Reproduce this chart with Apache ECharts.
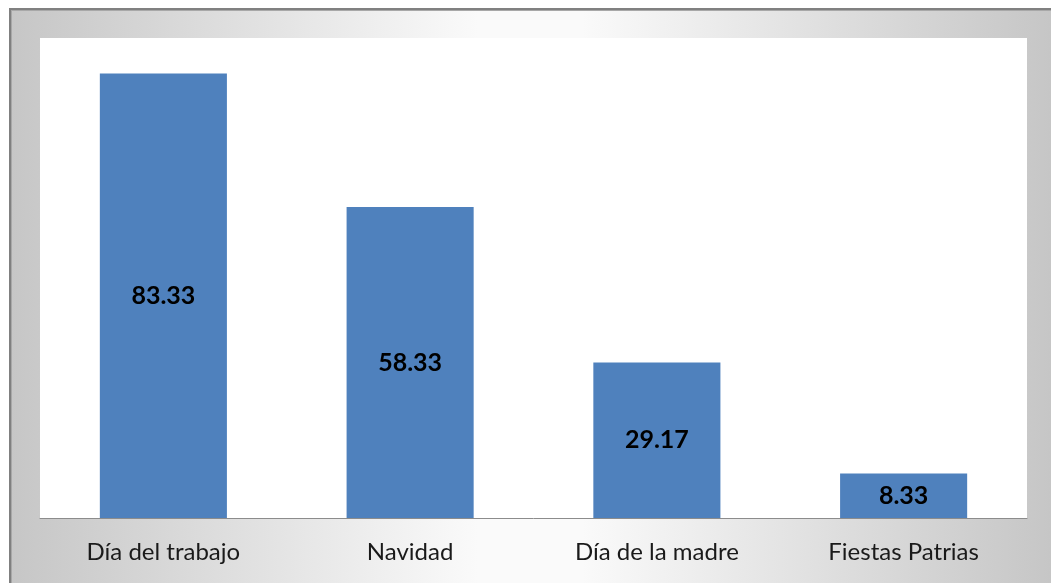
<!DOCTYPE html>
<html>
<head>
<meta charset="utf-8">
<script src="https://cdn.jsdelivr.net/npm/echarts@6/dist/echarts.min.js"></script>
<style>
html,body{margin:0;padding:0;background:#fff;}
#chart{width:1051px;height:583px;}
</style>
</head>
<body>
<div id="chart"></div>
<script>
const categories = ['Día del trabajo', 'Navidad', 'Día de la madre', 'Fiestas Patrias'];
const values = [83.33, 58.33, 29.17, 8.33];
const labels = ['83.33', '58.33', '29.17', '8.33'];

const chart = echarts.init(document.getElementById('chart'));
chart.setOption({
  animation: false,
  backgroundColor: '#ffffff',
  graphic: [
    {
      type: 'rect', z: -10, silent: true,
      shape: { x: 9, y: 8, width: 1042, height: 575 },
      style: {
        fill: new echarts.graphic.LinearGradient(0, 0, 1, 0, [
          { offset: 0, color: '#c6c6c6' },
          { offset: 0.45, color: '#fafafa' },
          { offset: 0.55, color: '#fafafa' },
          { offset: 1, color: '#c6c6c6' }
        ])
      }
    },
    { type: 'rect', z: -9, silent: true, shape: { x: 9, y: 8, width: 1042, height: 2 }, style: { fill: '#808080' } },
    { type: 'rect', z: -9, silent: true, shape: { x: 9, y: 10, width: 1042, height: 1 }, style: { fill: '#a8a8a8' } },
    { type: 'rect', z: -9, silent: true, shape: { x: 9, y: 8, width: 2, height: 575 }, style: { fill: '#808080' } },
    { type: 'rect', z: -9, silent: true, shape: { x: 11, y: 10, width: 1, height: 573 }, style: { fill: '#a8a8a8' } }
  ],
  grid: {
    left: 40, right: 24, top: 38, bottom: 65,
    show: true, backgroundColor: '#ffffff', borderWidth: 0
  },
  xAxis: {
    type: 'category',
    data: categories,
    axisTick: { show: false },
    axisLine: { lineStyle: { color: '#8c8c8c', width: 1 } },
    axisLabel: {
      color: '#1a1a1a', fontSize: 24, fontFamily: 'Lato', margin: 22
    }
  },
  yAxis: {
    type: 'value', min: 0, max: 90,
    show: false,
    splitLine: { show: false }
  },
  series: [{
    type: 'bar',
    data: values,
    barWidth: '51.5%',
    itemStyle: { color: '#4f81bd' },
    label: {
      show: true, position: 'inside',
      formatter: p => labels[p.dataIndex],
      color: '#000000', fontSize: 25, fontWeight: 'bold', fontFamily: 'Lato'
    }
  }]
});
</script>
</body>
</html>
